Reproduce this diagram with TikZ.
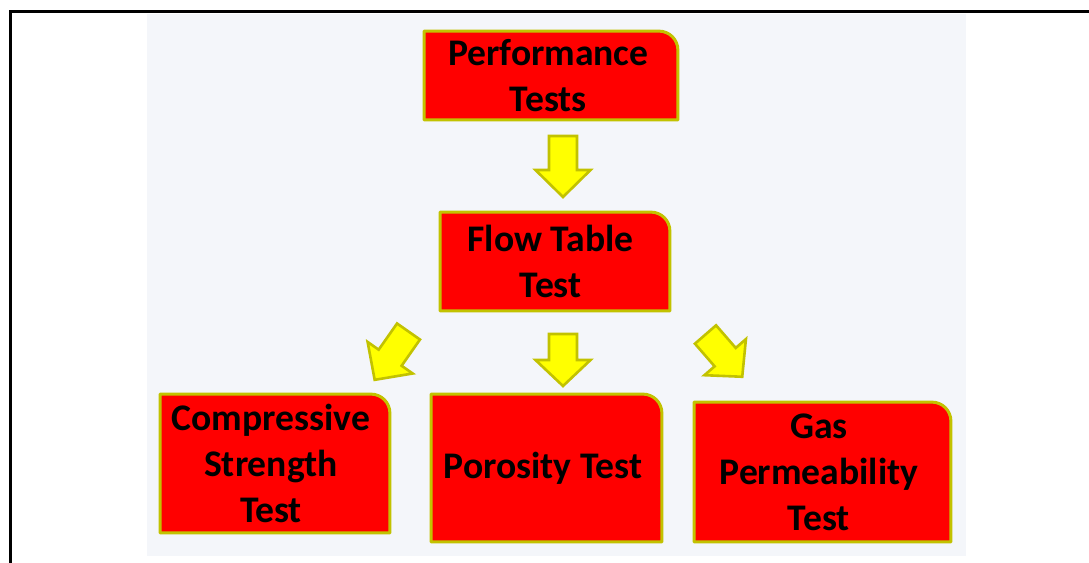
\documentclass[tikz,border=0pt]{standalone}
\usepackage{fontspec}
\setmainfont{Carlito}
\usetikzlibrary{calc}
\definecolor{panelc}{HTML}{F4F6FA}
\definecolor{olive}{HTML}{C2C200}
\definecolor{boxred}{HTML}{FF0000}
\definecolor{arrowy}{HTML}{FFFF00}
\pgfdeclarelayer{bg}
\pgfdeclarelayer{boxes}
\pgfsetlayers{bg,boxes,main}
\tikzset{
  boxnode/.style={draw=none, fill=none, inner sep=0pt},
  boxtext/.style={draw=none, fill=none, align=center, inner sep=0pt,
    font=\bfseries\fontsize{18.8}{23}\selectfont, text=black},
  boxsty/.style={fill=boxred, draw=olive, line width=1.5pt, line join=round},
  arrowsty/.style={fill=arrowy, draw=olive, line width=1.3pt, line join=miter},
  pics/barrow/.style args={#1/#2}{code={
    \path[arrowsty] (-14,0) -- (14,0) -- (14,{#1-#2}) -- (27.5,{#1-#2}) -- (0,#1)
      -- (-27.5,{#1-#2}) -- (-14,{#1-#2}) -- cycle;
  }}
}
\newcommand\boxshape[1]{\path[boxsty] (#1.south west) -- (#1.north west)
  -- ([xshift=-9.5pt]#1.north east) arc[start angle=90,end angle=0,radius=9.5pt]
  -- (#1.south east) -- cycle;}
\begin{document}
\begin{tikzpicture}[x=0.5pt,y=-0.5pt]
\useasboundingbox (0,0) rectangle (1089,563);
\begin{pgfonlayer}{bg}
  \fill[white] (0,0) rectangle (1089,563);
  \fill[panelc] (147,14) rectangle (966,556);
  \draw[black, line width=1.6pt] (10.3,563) -- (10.3,11.6) -- (1089,11.6);
\end{pgfonlayer}
\node[boxnode, minimum width=126.5pt, minimum height=44pt] (b1) at (551,75.5) {};
\node[boxnode, minimum width=114.5pt, minimum height=49pt] (b2) at (555,261.5) {};
\node[boxnode, minimum width=114.5pt, minimum height=69pt] (b3) at (275,463.5) {};
\node[boxnode, minimum width=115pt, minimum height=73.5pt] (b4) at (546.5,468) {};
\node[boxnode, minimum width=128pt, minimum height=69.5pt] (b5) at (822.5,472) {};
\begin{pgfonlayer}{boxes}
  \boxshape{b1}
  \boxshape{b2}
  \boxshape{b3}
  \boxshape{b4}
  \boxshape{b5}
\end{pgfonlayer}
\node[boxtext] (t1) at ([xshift=-1.3pt]b1.center) {Performance\\Tests};
\node[boxtext] (t2) at ([xshift=-2.2pt]b2.center) {Flow Table\\Test};
\node[boxtext] (t3) at ([xshift=-2pt]b3.center) {Compressive\\Strength\\Test};
\node[boxtext] (t4) at ([xshift=-1.8pt]b4.center) {Porosity Test};
\node[boxtext] (t5) at ([xshift=-1.8pt]b5.center) {Gas\\Permeability\\Test};
\pic at (563,136) {barrow={61/27}};
\pic at (563,334) {barrow={52/26}};
\pic[rotate=-35] at (408.5,331.5) {barrow={59/27}};
\pic[rotate=41] at (705.5,334.5) {barrow={56/26}};
\end{tikzpicture}
\end{document}
